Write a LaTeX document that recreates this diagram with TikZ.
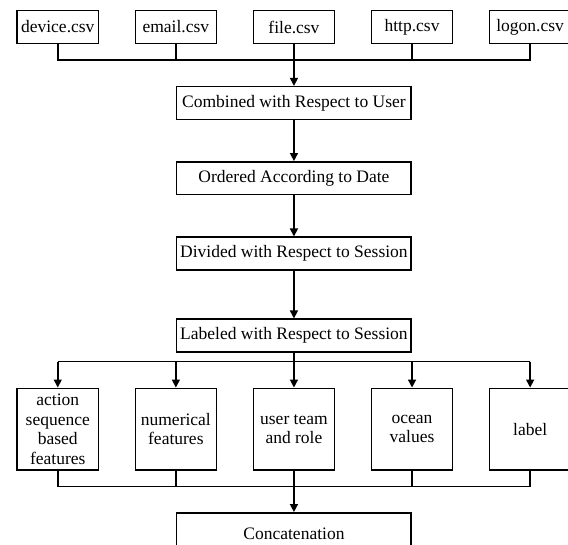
\documentclass[tikz,border=0pt]{standalone}
\usepackage{fontspec}
\setmainfont{Liberation Serif}
\usetikzlibrary{arrows.meta,positioning}

\begin{document}
\begin{tikzpicture}[
    box/.style={rectangle, draw, line width=1.5pt, minimum width=2.85cm, minimum height=1.15cm, inner sep=1pt, align=center, font=\fontsize{17.5}{19.5}\selectfont},
    wide box/.style={box, minimum width=8.24cm},
    feat box/.style={box, minimum height=2.87cm},
    line/.style={line width=1.5pt},
    arrow/.style={-{Triangle[length=8pt, width=8pt]}, line width=1.5pt}
]
\useasboundingbox (-10.33,0) rectangle (9.63,-19.12);

% Input log files
\node[box] (dev) at (-8.3,-0.95) {device.csv};
\node[box] (email) at (-4.15,-0.95) {email.csv};
\node[box] (file) at (0,-0.95) {file.csv};
\node[box] (http) at (4.15,-0.95) {http.csv};
\node[box] (logon) at (8.3,-0.95) {logon.csv};

% Main processing path
\node[wide box] (comb) at (0,-3.62) {Combined with Respect to User};
\node[wide box] (order) at (0,-6.26) {Ordered According to Date};
\node[wide box] (divide) at (0,-8.91) {Divided with Respect to Session};
\node[wide box] (labeled) at (0,-11.79) {Labeled with Respect to Session};

% Feature groups
\node[feat box] (act) at (-8.3,-15.08) {action\\sequence\\based\\features};
\node[feat box] (num) at (-4.15,-15.08) {numerical\\features};
\node[feat box] (team) at (0,-15.08) {user team\\and role};
\node[feat box] (ocean) at (4.15,-15.08) {ocean\\values};
\node[feat box] (lbl) at (8.3,-15.08) {label};

\node[wide box, minimum height=1.46cm] (concat) at (0,-18.75) {Concatenation};

% Bus coordinates
\coordinate (topbus) at (0,-2.11);
\coordinate (splitbus) at (0,-12.71);
\coordinate (joinbus) at (0,-17.10);

% Merge of the log files
\draw[line] (dev.south) |- (topbus) -| (logon.south);
\draw[line] (email.south) -- (email.south |- topbus);
\draw[line] (http.south) -- (http.south |- topbus);
\draw[arrow] (file.south) -- (comb.north);

% Main path arrows
\draw[arrow] (comb) -- (order);
\draw[arrow] (order) -- (divide);
\draw[arrow] (divide) -- (labeled);

% Split into feature groups
\draw[line] (splitbus -| act.north) -- (splitbus -| lbl.north);
\draw[arrow] (labeled.south) -- (team.north);
\draw[arrow] (splitbus -| act.north) -- (act.north);
\draw[arrow] (splitbus -| num.north) -- (num.north);
\draw[arrow] (splitbus -| ocean.north) -- (ocean.north);
\draw[arrow] (splitbus -| lbl.north) -- (lbl.north);

% Join into concatenation
\draw[line] (act.south) |- (joinbus) -| (lbl.south);
\draw[line] (num.south) -- (num.south |- joinbus);
\draw[line] (ocean.south) -- (ocean.south |- joinbus);
\draw[arrow] (team.south) -- (concat.north);
\end{tikzpicture}
\end{document}
